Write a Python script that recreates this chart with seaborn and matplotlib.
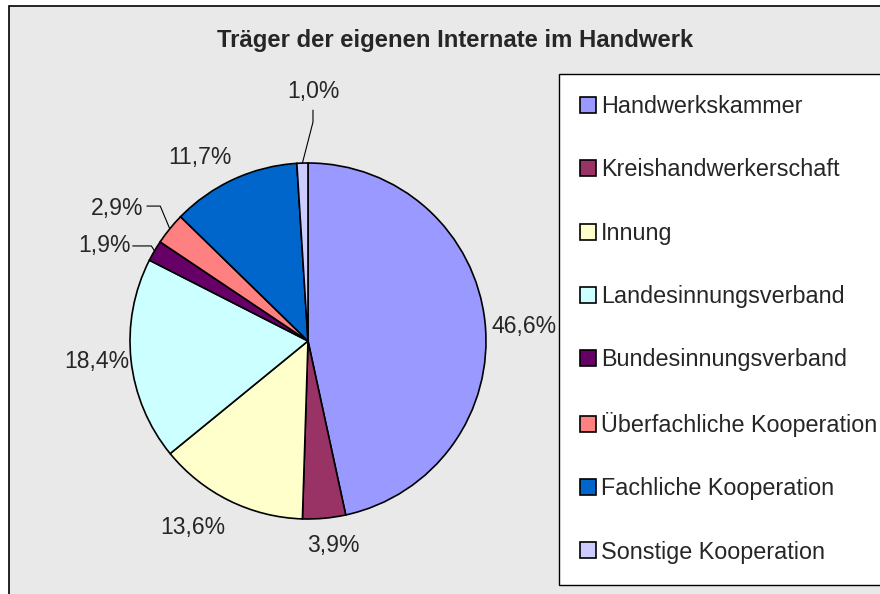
import matplotlib
matplotlib.use("Agg")
import matplotlib.pyplot as plt
import seaborn as sns
import numpy as np
from matplotlib.patches import Rectangle, Patch

# data
categories = [
    "Handwerkskammer",
    "Kreishandwerkerschaft",
    "Innung",
    "Landesinnungsverband",
    "Bundesinnungsverband",
    "Überfachliche Kooperation",
    "Fachliche Kooperation",
    "Sonstige Kooperation",
]
shares = [46.6, 3.9, 13.6, 18.4, 1.9, 2.9, 11.7, 1.0]
colors = ["#9999FF", "#993366", "#FFFFCC", "#CCFFFF",
          "#660066", "#FF8080", "#0066CC", "#CCCCFF"]
title = "Träger der eigenen Internate im Handwerk"

pct_labels = [("%.1f%%" % v).replace(".", ",") for v in shares]

sns.set_style("white")
plt.rcParams["font.family"] = ["Liberation Sans", "DejaVu Sans"]

W, H = 880, 594
fig = plt.figure(figsize=(W / 100, H / 100), dpi=100)
fig.patch.set_facecolor("white")

# grey chart area with black border (runs off right/bottom edge)
fig.add_artist(Rectangle((9 / W, -0.1), 1.0, 1 - 6 / H + 0.1,
                         transform=fig.transFigure, facecolor="#E9E9E9",
                         edgecolor="black", lw=1.2, zorder=-1))

# pie centred at (308, 341) px, radius 178 px
cx, cy, r = 308, 341, 178
ax = fig.add_axes([(cx - r) / W, 1 - (cy + r) / H, 2 * r / W, 2 * r / H])
ax.set_axis_off()
wedges, _ = ax.pie(shares, colors=colors, startangle=90, counterclock=False,
                   wedgeprops=dict(edgecolor="black", linewidth=1.2))
ax.set_xlim(-1, 1)
ax.set_ylim(-1, 1)

# label placement: (radial distance, angle nudge in degrees)
placement = {0: (1.215, -2.4), 1: (1.155, 1.8), 2: (1.23, -5.4),
             3: (1.19, -0.7), 6: (1.194, 5.8)}
# labels with leader lines: text centre, text end, elbow
leaders = {
    4: ((-1.146, 0.534), (-0.985, 0.534), (-0.88, 0.534)),
    5: ((-1.073, 0.747), (-0.905, 0.758), (-0.83, 0.758)),
    7: ((0.028, 1.40), (0.028, 1.297), (0.028, 1.23)),
}

for i, (w, lab) in enumerate(zip(wedges, pct_labels)):
    mid = (w.theta1 + w.theta2) / 2
    ang = np.deg2rad(mid)
    ex, ey = np.cos(ang), np.sin(ang)
    if i in leaders:
        (tx, ty), (sx, sy), (bx, by) = leaders[i]
        ax.text(tx, ty, lab, ha="center", va="center", fontsize=16.6)
        ax.plot([sx, bx, ex], [sy, by, ey], color="black", lw=0.8,
                clip_on=False)
    else:
        d, nudge = placement[i]
        a = np.deg2rad(mid + nudge)
        ax.text(d * np.cos(a), d * np.sin(a), lab, ha="center",
                va="center", fontsize=16.6)

fig.text(455 / W, 1 - 40 / H, title, ha="center", va="center",
         fontsize=17.2, fontweight="bold")

handles = [Patch(facecolor=c, edgecolor="black", lw=1.2) for c in colors]
leg = fig.legend(handles, categories, loc="upper left",
                 bbox_to_anchor=(559 / W, 1 - 74 / H),
                 bbox_transform=fig.transFigure, borderaxespad=0,
                 fontsize=16.8, frameon=True, fancybox=False,
                 edgecolor="black", framealpha=1, labelspacing=1.73,
                 handlelength=0.68, handleheight=0.68, handletextpad=0.22,
                 borderpad=0.9)
leg.get_frame().set_linewidth(1.0)

fig.savefig("out.png", dpi=100)
